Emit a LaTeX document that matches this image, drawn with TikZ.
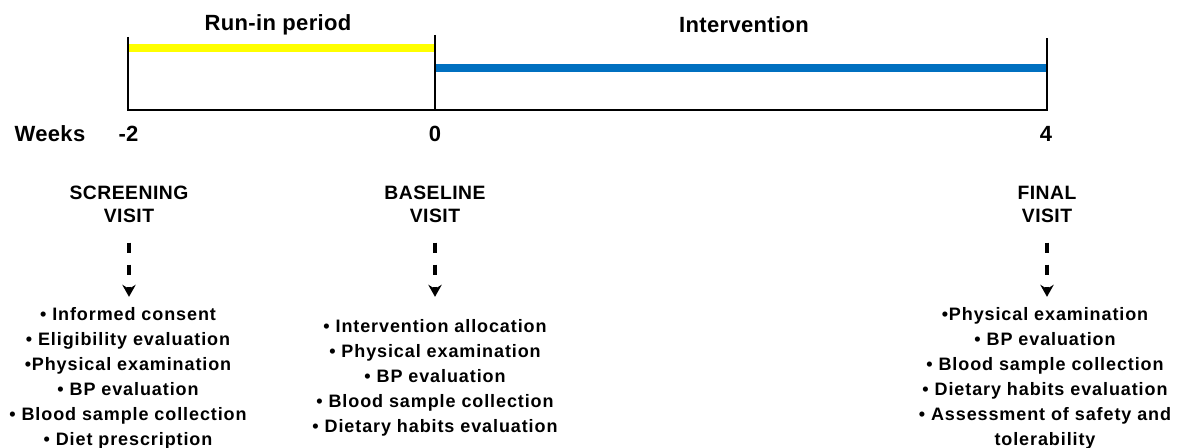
\documentclass[tikz,border=0pt]{standalone}
\usepackage{fontspec}
\setmainfont{Liberation Sans}
\newfontfamily\dinfont{Liberation Sans}[LetterSpace=5]
\newfontfamily\dinvisit{Liberation Sans}[LetterSpace=2.5]
\newfontfamily\dinbig{Liberation Sans}[LetterSpace=1.5]
\usetikzlibrary{arrows.meta}
\definecolor{runyellow}{HTML}{FFFF00}
\definecolor{intblue}{HTML}{0070C0}
\begin{document}
\begin{tikzpicture}[x=0.75pt,y=-0.75pt,
  txt/.style={font=\dinfont\bfseries\fontsize{13.5}{18.75}\selectfont, align=center, inner sep=0pt},
  visit/.style={font=\dinvisit\bfseries\fontsize{14.5}{17.25}\selectfont, align=center, inner sep=0pt},
  big/.style={font=\dinbig\bfseries\fontsize{16.5}{20}\selectfont, inner sep=0pt},
  axisline/.style={line width=2.1pt, black},
  period/.style={line width=6pt},
  dasharrow/.style={line width=2.4pt, dash pattern=on 7.5pt off 9pt, -{Stealth[length=9pt,width=10pt,inset=3pt]}, shorten <=15pt, shorten >=7.5pt}]
\useasboundingbox (0,0) rectangle (1177,448);
% timeline coordinates
\coordinate (a0) at (128,110);
\coordinate (a1) at (128,37);
\coordinate (b0) at (435,110);
\coordinate (b1) at (435,35);
\coordinate (c0) at (1047,110);
\coordinate (c1) at (1047,38);
\coordinate (y0) at (129,48);
\coordinate (y1) at (435,48);
\coordinate (u0) at (435,68);
\coordinate (u1) at (1047,68);
\draw[period, runyellow] (y0) -- (y1);
\draw[period, intblue] (u0) -- (u1);
\draw[axisline] (a1) -- (a0) -- (c0) -- (c1);
\draw[axisline] (b1) -- (b0);
% labels
\node[big] (run) at (278,25) {Run-in period};
\node[big] (int) at (744,25) {Intervention};
\node[big] (weeks) at (50,133.5) {Weeks};
\node[big] (wm2) at (128.5,133.5) {-2};
\node[big] (w0) at (435,133.5) {0};
\node[big] (w4) at (1046,133.5) {4};
% visits
\node[visit] (scr) at (129,204) {SCREENING\\VISIT};
\node[visit] (bas) at (435,204) {BASELINE\\VISIT};
\node[visit] (fin) at (1047,204) {FINAL\\VISIT};
% lists
\node[txt] (scrl) at (128,378) {• Informed consent\\• Eligibility evaluation\\•Physical examination\\• BP evaluation\\• Blood sample collection\\• Diet prescription};
\node[txt] (basl) at (435,377.5) {• Intervention allocation\\• Physical examination\\• BP evaluation\\• Blood sample collection\\• Dietary habits evaluation};
\node[txt] (finl) at (1045,378) {•Physical examination\\• BP evaluation\\• Blood sample collection\\• Dietary habits evaluation\\• Assessment of safety and\\tolerability};
\draw[dasharrow] (scr.south) -- (scr.south |- scrl.north);
\draw[dasharrow] (bas.south) -- (bas.south |- scrl.north);
\draw[dasharrow] (fin.south) -- (fin.south |- finl.north);
\end{tikzpicture}
\end{document}
